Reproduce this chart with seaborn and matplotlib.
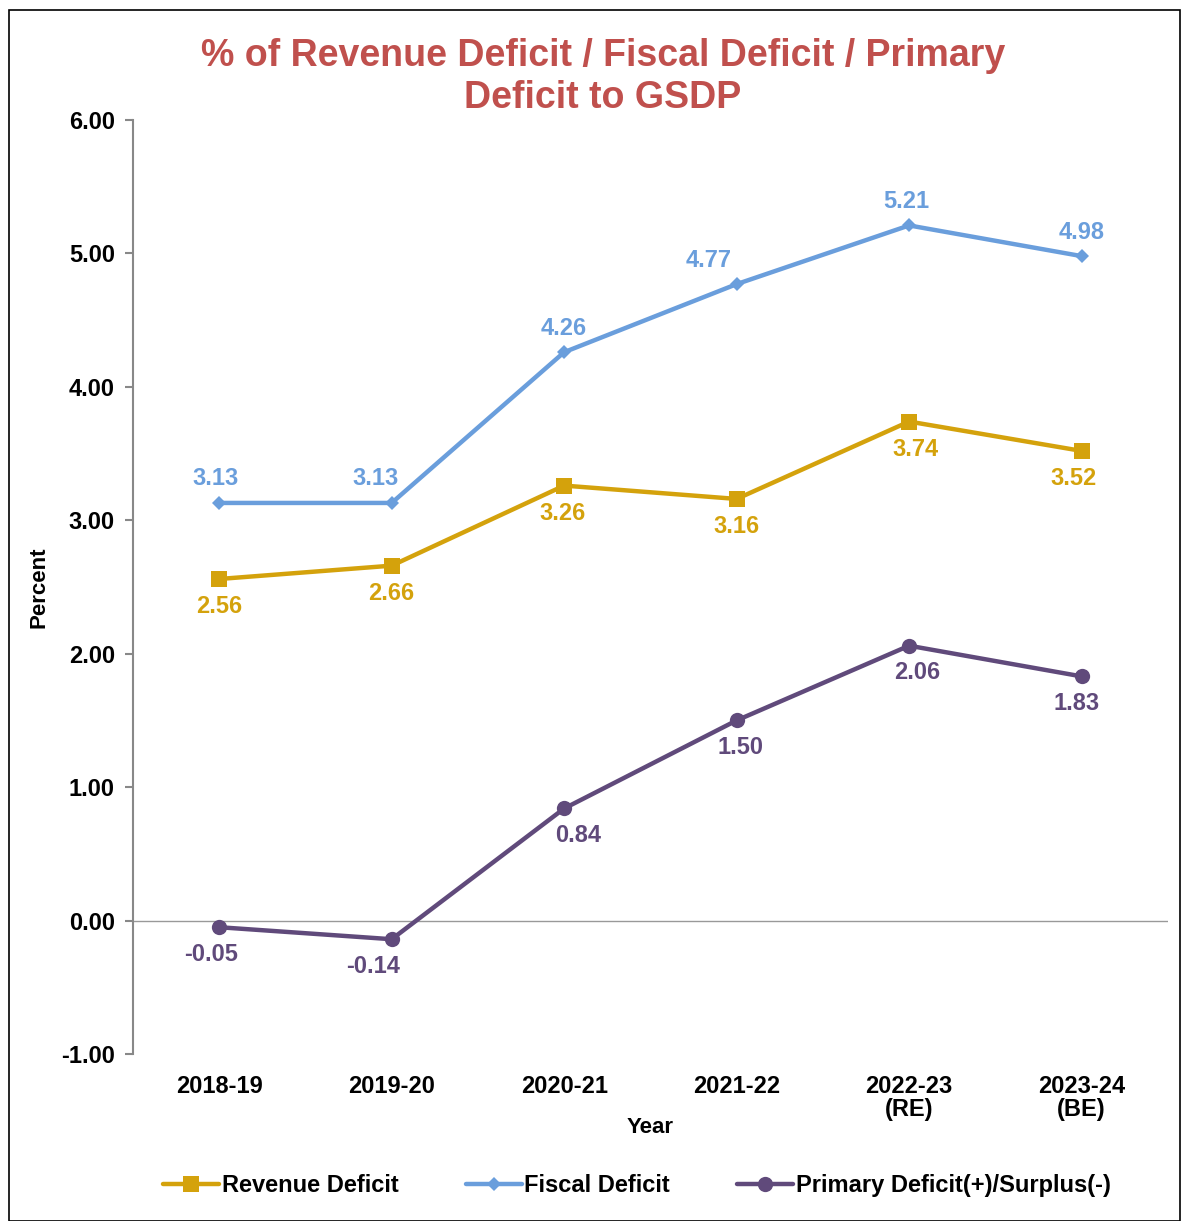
import matplotlib
matplotlib.use("Agg")
import matplotlib.pyplot as plt
import seaborn as sns
import pandas as pd
from matplotlib.patches import Rectangle

years = ["2018-19", "2019-20", "2020-21", "2021-22", "2022-23\n(RE)", "2023-24\n(BE)"]
revenue_deficit = [2.56, 2.66, 3.26, 3.16, 3.74, 3.52]
fiscal_deficit = [3.13, 3.13, 4.26, 4.77, 5.21, 4.98]
primary_deficit = [-0.05, -0.14, 0.84, 1.50, 2.06, 1.83]
series_names = ["Revenue Deficit", "Fiscal Deficit", "Primary Deficit(+)/Surplus(-)"]
y_ticks = [-1.0, 0.0, 1.0, 2.0, 3.0, 4.0, 5.0, 6.0]

sns.set_theme(style="white")
plt.rcParams['font.family'] = ['Liberation Sans', 'DejaVu Sans']

colors = ["#D4A20C", "#6A9EDC", "#604A7B"]
markers = ["s", "D", "o"]
msizes = [11, 7, 11]
dy = [-28, 24, -27]  # label offsets in pixels (negative below)
dx = [[0, 0, -2, 0, 6, -8],
      [-4, -16, 0, -28, -3, 0],
      [-8, -19, 14, 4, 8, -5]]

df = pd.DataFrame({
    "Year": years * 3,
    "Value": revenue_deficit + fiscal_deficit + primary_deficit,
    "Series": sum([[n] * len(years) for n in series_names], []),
})

fig = plt.figure(figsize=(11.82, 12.21), dpi=100)
ax = fig.add_axes([0.1125, 0.1368, 0.8755, 0.7649])

for i, name in enumerate(series_names):
    sub = df[df["Series"] == name]
    sns.lineplot(data=sub, x="Year", y="Value", ax=ax, color=colors[i], lw=3.2,
                 marker=markers[i], markersize=msizes[i], markeredgewidth=0,
                 label=name, sort=False)
    for j, v in enumerate(sub["Value"]):
        ax.annotate(f"{v:.2f}", (j, v), xytext=(dx[i][j], dy[i]), textcoords="offset pixels",
                    ha="center", va="center", color=colors[i], fontsize=17, fontweight="bold")

ax.set_xlim(-0.5, 5.5)
ax.set_ylim(-1.0, 6.0)
ax.set_yticks(y_ticks)
ax.set_yticklabels([f"{t:.2f}" for t in y_ticks], fontsize=17, fontweight="bold", color="black")
ax.set_xticks(range(len(years)))
ax.set_xticklabels(years, fontsize=17, fontweight="bold", color="black", linespacing=1.0)
ax.tick_params(axis="y", which="major", left=True, length=6, width=1.5, color="#888888", pad=7)
ax.tick_params(axis="x", length=0, pad=15)
for s in ["top", "right", "bottom"]:
    ax.spines[s].set_visible(False)
ax.spines["left"].set_color("#888888")
ax.spines["left"].set_linewidth(1.5)
ax.axhline(0, color="#999999", lw=1, zorder=0)

ax.set_xlabel("Year", fontsize=16, fontweight="bold", color="black", labelpad=-3)
ax.set_ylabel("Percent", fontsize=16, fontweight="bold", color="black", labelpad=8)

fig.text(0.510, 0.937, "% of Revenue Deficit / Fiscal Deficit / Primary\nDeficit to GSDP",
         ha="center", va="center", fontsize=27, fontweight="bold", color="#C0504D",
         linespacing=1.2)

leg = ax.legend(loc="center", bbox_to_anchor=(0.487, -0.141), ncol=3, frameon=False,
                handlelength=2.37, handletextpad=0.12, columnspacing=2.84,
                prop={"weight": "bold", "size": 17})
for t in leg.get_texts():
    t.set_color("black")

fig.patches.append(Rectangle((0.008, 0.0), 0.99, 0.992, transform=fig.transFigure,
                             fill=False, edgecolor="black", lw=1.2))

fig.savefig("out.png", dpi=100)
